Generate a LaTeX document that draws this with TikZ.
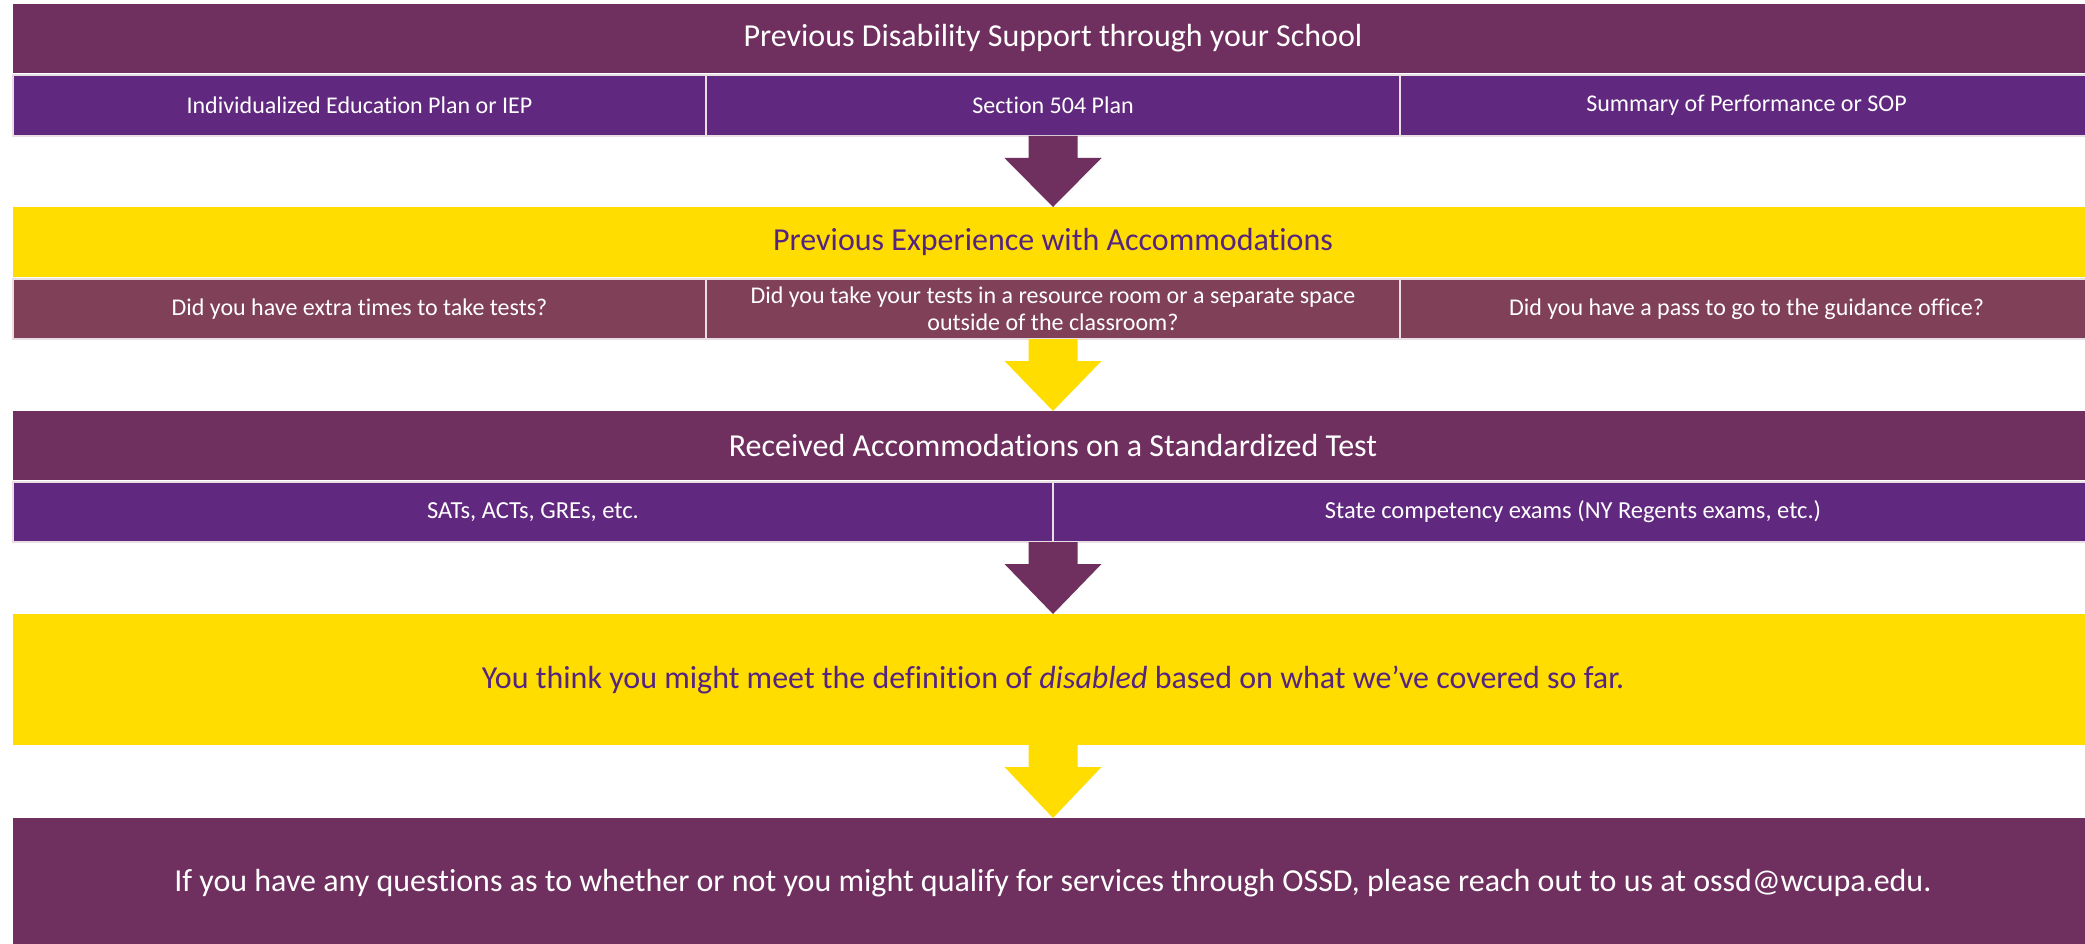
\documentclass[tikz,border=0pt]{standalone}
\usepackage{fontspec}
\setmainfont{Carlito}[Ligatures=NoCommon]
\usetikzlibrary{calc}
\definecolor{plum}{RGB}{111,47,95}
\definecolor{grape}{RGB}{97,40,128}
\definecolor{mauve}{RGB}{127,64,88}
\definecolor{gold}{RGB}{255,221,0}
\definecolor{ink}{RGB}{84,36,128}
\definecolor{edgecol}{RGB}{232,222,228}
\tikzset{
  box/.style={rectangle, inner sep=0pt, outer sep=0pt, anchor=north west, align=center},
  bandplum/.style={box, fill=plum, text=white, minimum width=2080pt},
  bandgold/.style={box, fill=gold, text=ink, minimum width=2080pt},
  titlefont/.style={font=\fontsize{32}{38}\selectfont},
  cell/.style={box, draw=edgecol, line width=1.5pt, text=white, font=\fontsize{24}{27}\selectfont},
  cellA/.style={cell, fill=grape},
  cellB/.style={cell, fill=mauve},
}
\newcommand{\blockarrow}[3]{%
  \fill[#1] let \p1=(#2), \p2=(#3) in
    (\x1-24.5pt,\y1) -- (\x1+24.5pt,\y1) -- (\x1+24.5pt,\y1-22pt) --
    (\x1+48.5pt,\y1-22pt) -- (\x1,\y2) -- (\x1-48.5pt,\y1-22pt) --
    (\x1-24.5pt,\y1-22pt) -- cycle;}
\begin{document}
\begin{tikzpicture}[x=1pt,y=-1pt]
\useasboundingbox (0,0) rectangle (2085,944);
\clip (0,0) rectangle (2085,944);
\fill[white] (0,0) rectangle (2085,944);

% band 1
\node[bandplum, titlefont, minimum height=69pt] (b1) at (13,4) {Previous Disability Support through your School};
\node[cellA, minimum width=693pt, minimum height=61pt] (r1a) at (13,75) {Individualized Education Plan or IEP};
\node[cellA, minimum width=694pt, minimum height=61pt] (r1b) at (706,75) {Section 504 Plan};
\node[cellA, minimum width=693pt, minimum height=61pt] (r1c) at (1400,75) {Summary of Performance or SOP};

% band 2
\node[bandgold, titlefont, minimum height=70pt] (b2) at (13,207) {Previous Experience with Accommodations};
\node[cellB, minimum width=693pt, minimum height=60pt] (r2a) at (13,279) {Did you have extra times to take tests?};
\node[cellB, minimum width=694pt, minimum height=60pt] (r2b) at (706,279) {Did you take your tests in a resource room or a separate space\\outside of the classroom?};
\node[cellB, minimum width=693pt, minimum height=60pt] (r2c) at (1400,279) {Did you have a pass to go to the guidance office?};

% band 3
\node[bandplum, titlefont, minimum height=69pt] (b3) at (13,411) {Received Accommodations on a Standardized Test};
\node[cellA, font=\fontsize{24.5}{28}\selectfont, minimum width=1040pt, minimum height=60pt] (r3a) at (13,482) {SATs, ACTs, GREs, etc.};
\node[cellA, font=\fontsize{24.5}{28}\selectfont, minimum width=1040pt, minimum height=60pt] (r3b) at (1053,482) {State competency exams (NY Regents exams, etc.)};

% band 4
\node[bandgold, font=\fontsize{32}{38}\selectfont, minimum height=131pt] (b4) at (13,614) {You think you might meet the definition of \textit{disabled} based on what we’ve covered so far.};

% band 5
\node[bandplum, font=\fontsize{32}{38}\selectfont, minimum height=130pt] (b5) at (13,818) {If you have any questions as to whether or not you might qualify for services through OSSD, please reach out to us at ossd@wcupa.edu.};

% arrows
\blockarrow{plum}{b1.south |- r1b.south}{b2.north}
\blockarrow{gold}{b2.south |- r2b.south}{b3.north}
\blockarrow{plum}{b3.south |- r3a.south}{b4.north}
\blockarrow{gold}{b4.south}{b5.north}
\end{tikzpicture}
\end{document}
